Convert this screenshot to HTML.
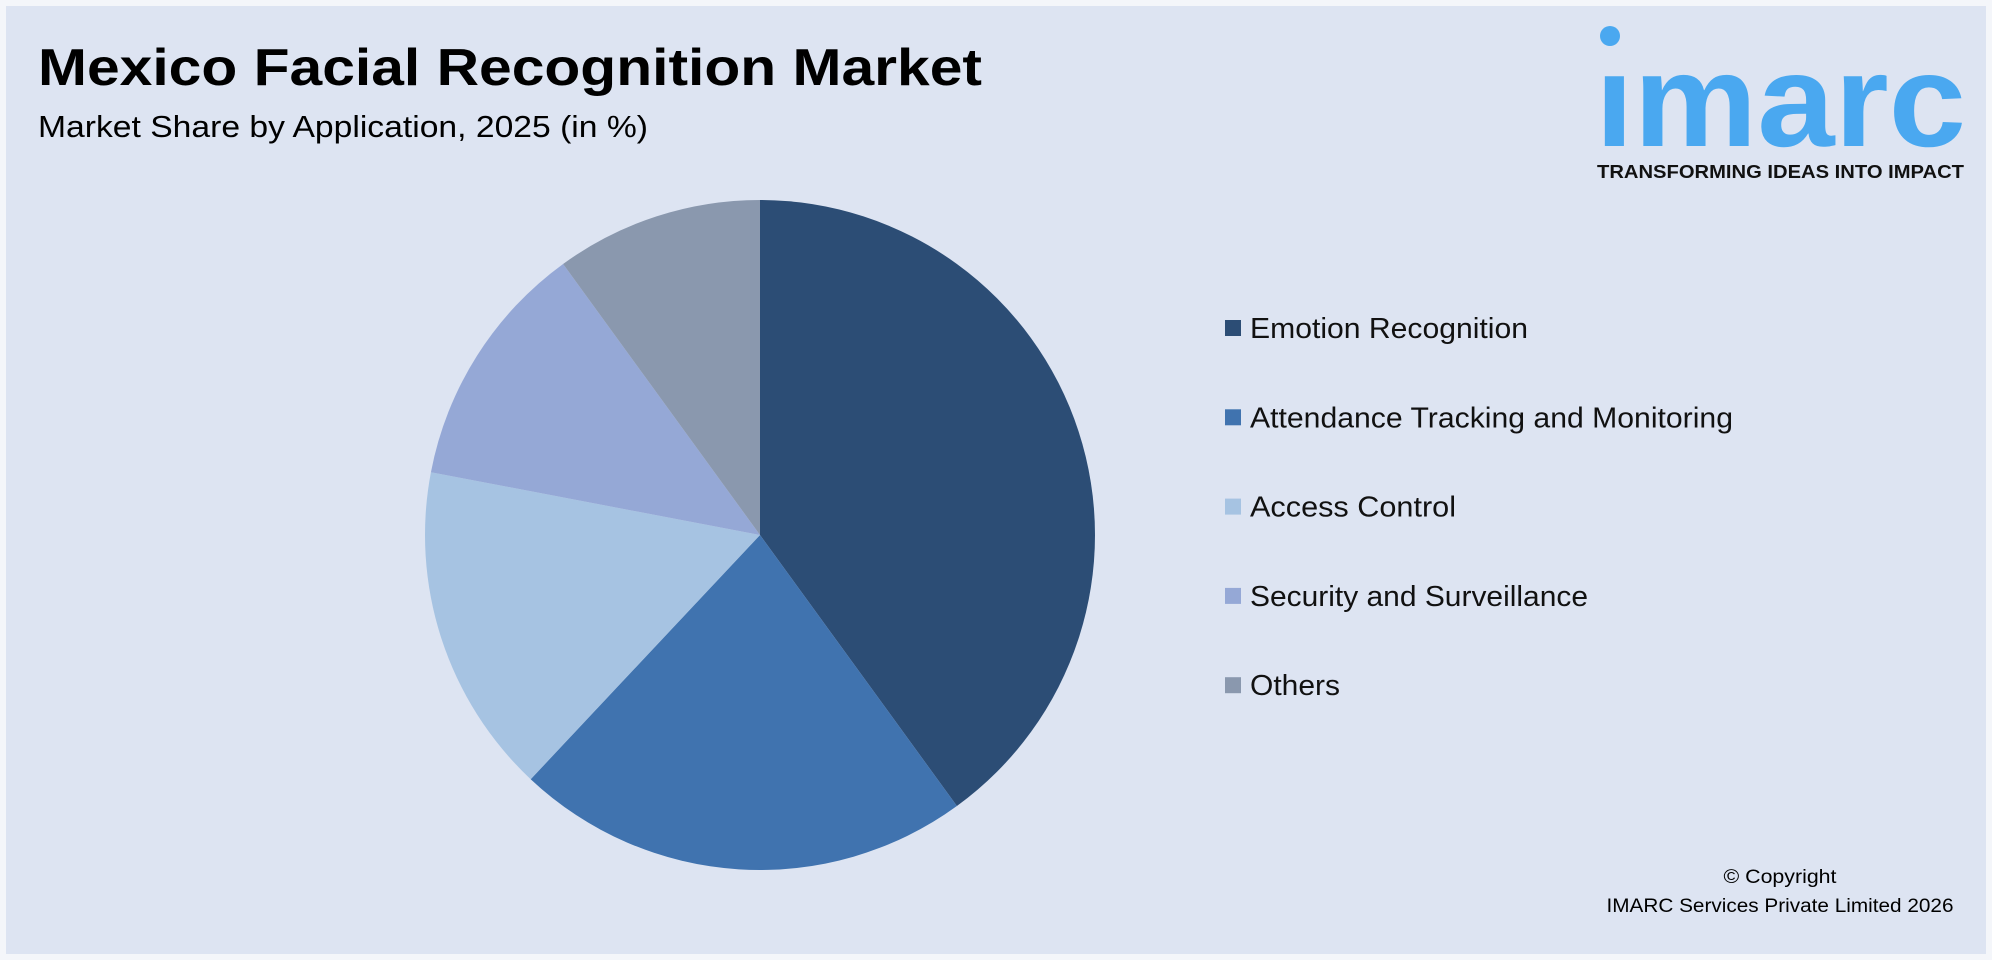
<!DOCTYPE html>
<html><head><meta charset="utf-8"><style>
html,body{margin:0;padding:0;background:#f4f6fa;}
svg{display:block;font-family:"Liberation Sans",sans-serif;}
</style></head><body>
<svg id="chart" width="1992" height="960" viewBox="0 0 1992 960">
<rect x="6" y="6" width="1980" height="948" fill="#dde4f2"/>
<text x="38" y="85" font-size="52" font-weight="bold" fill="#000" textLength="944" lengthAdjust="spacingAndGlyphs">Mexico Facial Recognition Market</text>
<text x="38" y="137" font-size="31" fill="#000" textLength="610" lengthAdjust="spacingAndGlyphs">Market Share by Application, 2025 (in %)</text>
<g>
<circle cx="1610" cy="36" r="10" fill="#4aa8f0"/>
<text x="1595" y="146" font-size="132" font-weight="bold" fill="#4aa8f0" textLength="371" lengthAdjust="spacingAndGlyphs">ımarc</text>
<text x="1597" y="178" font-size="18" font-weight="bold" fill="#111" textLength="367" lengthAdjust="spacingAndGlyphs">TRANSFORMING IDEAS INTO IMPACT</text>
</g>
<g id="pie"></g>
<g id="legend"></g>
<text x="1780" y="883" font-size="19" text-anchor="middle" fill="#000" textLength="113" lengthAdjust="spacingAndGlyphs">© Copyright</text>
<text x="1780" y="912" font-size="19" text-anchor="middle" fill="#000" textLength="347" lengthAdjust="spacingAndGlyphs">IMARC Services Private Limited 2026</text>
</svg>
<script>
const categories = ["Emotion Recognition","Attendance Tracking and Monitoring","Access Control","Security and Surveillance","Others"];
const values = [40,22,16,12,10];
const colors = ["#2c4d75","#4073af","#a6c3e2","#95a8d6","#8a98ae"];
const labelWidths = [278,483,206,338,90];
const NS="http://www.w3.org/2000/svg";
const cx=760, cy=535, r=335;
const total=values.reduce((a,b)=>a+b,0);
function pt(a){return [cx+r*Math.sin(a), cy-r*Math.cos(a)];}
const pie=document.getElementById('pie');
let a0=0;
values.forEach((v,i)=>{
  const a1=a0+v/total*2*Math.PI;
  const p0=pt(a0),p1=pt(a1);
  const large=(a1-a0)>Math.PI?1:0;
  const p=document.createElementNS(NS,'path');
  p.setAttribute('d',`M${cx},${cy}L${p0[0]},${p0[1]}A${r},${r} 0 ${large} 1 ${p1[0]},${p1[1]}Z`);
  p.setAttribute('fill',colors[i]);
  
  
  pie.appendChild(p);
  a0=a1;
});
const lg=document.getElementById('legend');
categories.forEach((c,i)=>{
  const y=328+i*89.3;
  const g=document.createElementNS(NS,'g');
  
  
  const s=document.createElementNS(NS,'rect');
  s.setAttribute('x',1225);s.setAttribute('y',y-8);s.setAttribute('width',16);s.setAttribute('height',16);
  s.setAttribute('fill',colors[i]);
  
  
  const t=document.createElementNS(NS,'text');
  t.setAttribute('x',1250);t.setAttribute('y',y+10);t.setAttribute('font-size','29');t.setAttribute('fill','#111');
  t.setAttribute('textLength',labelWidths[i]);t.setAttribute('lengthAdjust','spacingAndGlyphs');
  t.textContent=c;
  
  
  g.appendChild(s);g.appendChild(t);lg.appendChild(g);
});
</script>
</body></html>
